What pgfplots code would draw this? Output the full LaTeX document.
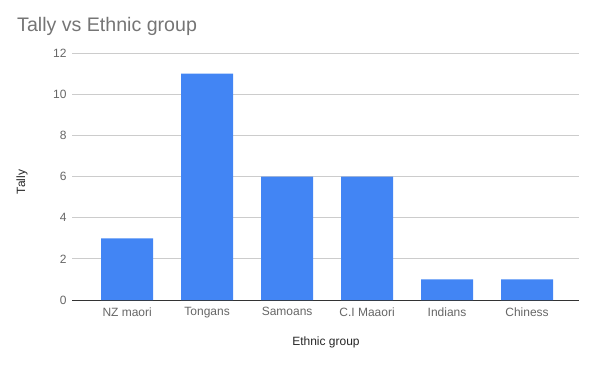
\documentclass[border=0pt]{standalone}
\usepackage{pgfplots}
\pgfplotsset{compat=1.18}
\usepackage{fontspec}
\setmainfont{Liberation Sans}
\definecolor{barblue}{HTML}{4285F4}
\definecolor{titlegray}{HTML}{757575}
\definecolor{tickgray}{HTML}{666666}
\definecolor{gridgray}{HTML}{CCCCCC}
\definecolor{axisdark}{HTML}{333333}
\begin{document}
\begin{tikzpicture}[x=1pt,y=1pt]
\useasboundingbox (0,0) rectangle (598,365);
\node[anchor=base west, text=titlegray, font=\fontsize{19.6}{22}\selectfont, inner sep=0] at (17,333) {Tally vs Ethnic group};
\node[rotate=90, anchor=center, text=black!85, font=\fontsize{12}{14}\selectfont] at (22,183) {Tally};
\node[anchor=center, text=black!85, font=\fontsize{12}{14}\selectfont] at (326,23) {Ethnic group};
\begin{axis}[
  at={(72pt,65pt)}, anchor=south west,
  scale only axis, width=507pt, height=247pt,
  xmin=-0.69, xmax=5.65, ymin=0, ymax=12,
  ytick={0,2,4,6,8,10,12},
  xtick={0,1,2,3,4,5},
  xticklabels={NZ maori,Tongans,Samoans,C.I Maaori,Indians,Chiness},
  ymajorgrids, grid style={gridgray, line width=0.8pt},
  axis on top=false,
  axis x line*=bottom, axis y line*=left,
  x axis line style={axisdark, line width=1pt, -},
  y axis line style={draw=none},
  major tick length=0pt,
  ticklabel style={text=tickgray, font=\fontsize{12}{14}\selectfont},
  /pgf/number format/assume math mode=true,
  yticklabel style={xshift=-2pt},
  xticklabel style={yshift=-4pt},
  clip=false,
]
\addplot[ybar, bar width=0.65, fill=barblue, draw=none, bar shift=0pt] coordinates {
  (0,3) (1,11) (2,6) (3,6) (4,1) (5,1)
};
\end{axis}
\end{tikzpicture}
\end{document}
